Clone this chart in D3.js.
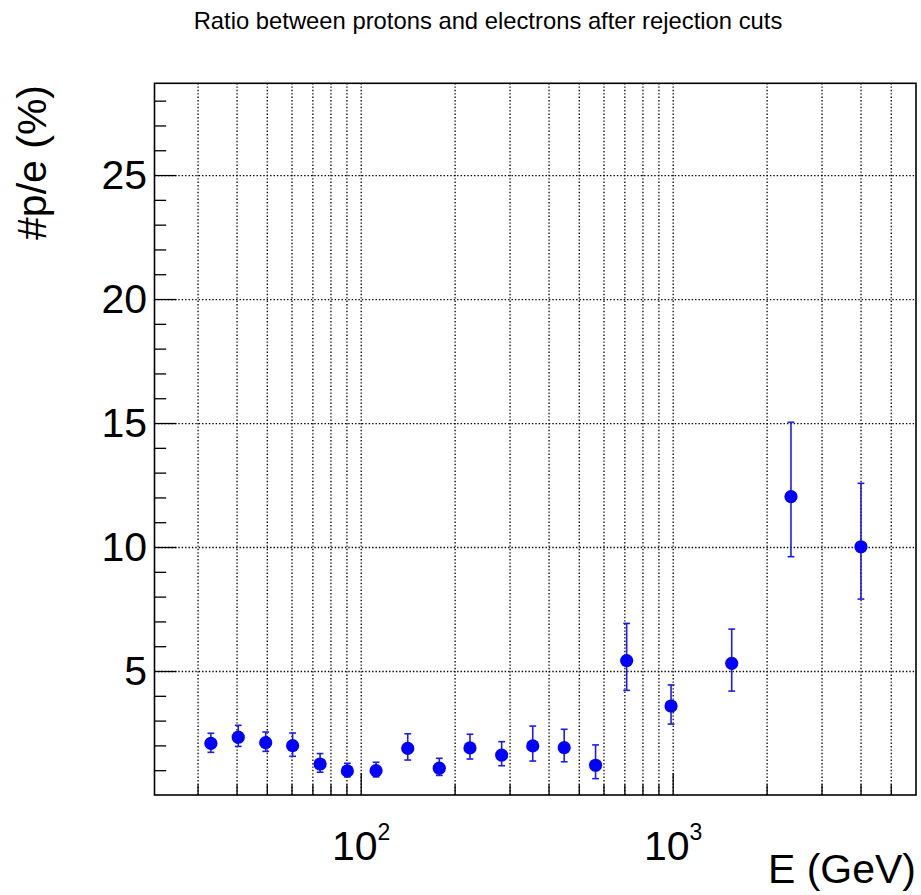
<!DOCTYPE html>
<html>
<head>
<meta charset="utf-8">
<script src="https://cdn.jsdelivr.net/npm/d3@7"></script>
<style>
  html, body { margin: 0; padding: 0; background: #ffffff; }
  svg { display: block; }
  text { font-family: "Liberation Sans", Arial, Helvetica, sans-serif; fill: #000; }
</style>
</head>
<body>
<svg id="chart" width="921" height="895"></svg>
<script>
// ---- data ----
const energy  = [33.1, 40.5, 49.6, 60.5, 74.1, 90.6, 112, 141.5, 178.6, 224, 283, 356, 449, 566, 712, 988, 1546, 2394, 4013];
const ratio   = [2.08, 2.33, 2.11, 1.99, 1.25, 0.97, 0.98, 1.88, 1.08, 1.90, 1.61, 1.98, 1.91, 1.20, 5.42, 3.59, 5.31, 12.03, 10.01];
const errUp   = [0.41, 0.48, 0.43, 0.51, 0.42, 0.31, 0.34, 0.59, 0.40, 0.55, 0.54, 0.80, 0.74, 0.82, 1.50, 0.85, 1.38, 3.00, 2.56];
const errDown = [0.36, 0.37, 0.35, 0.43, 0.33, 0.24, 0.25, 0.47, 0.29, 0.45, 0.43, 0.61, 0.57, 0.54, 1.20, 0.73, 1.12, 2.42, 2.11];

const xMajorTicks = [100, 1000];
const xMajorExp   = ["2", "3"];
const xMinorTicks = [30, 40, 50, 60, 70, 80, 90, 200, 300, 400, 500, 600, 700, 800, 900, 2000, 3000, 4000, 5000];
const yMajorTicks = [5, 10, 15, 20, 25];
const yMinorTicks = [1,2,3,4,6,7,8,9,11,12,13,14,16,17,18,19,21,22,23,24,26,27,28];

const titleText  = "Ratio between protons and electrons after rejection cuts";
const xTitleText = "E (GeV)";
const yTitleText = "#p/e (%)";

// ---- layout ----
const L = 154.5, R = 916, T = 83.3, B = 795;
const svg = d3.select("#chart");

const x = d3.scaleLog().domain([21.83, 6024]).range([L, R]);
const y = d3.scaleLinear().domain([0, 28.7]).range([B, T]);

// grid
const gridX = svg.append("g").attr("transform", `translate(0,${B})`)
  .call(d3.axisBottom(x).tickValues(xMinorTicks.concat(xMajorTicks)).tickSize(-(B - T)).tickFormat(""));
const gridY = svg.append("g").attr("transform", `translate(${L},0)`)
  .call(d3.axisLeft(y).tickValues(yMajorTicks).tickSize(-(R - L)).tickFormat(""));
[gridX, gridY].forEach(g => {
  g.select(".domain").remove();
  g.selectAll("line").attr("stroke", "#000").attr("stroke-width", 1.3).attr("stroke-dasharray", "1.4,2");
});

// x axis ticks
const xMinorAx = svg.append("g").attr("transform", `translate(0,${B})`)
  .call(d3.axisBottom(x).tickValues(xMinorTicks).tickSize(-10.7).tickFormat(""));
const xMajorAx = svg.append("g").attr("transform", `translate(0,${B})`)
  .call(d3.axisBottom(x).tickValues(xMajorTicks).tickSize(-22).tickPadding(0).tickFormat(""));
[xMinorAx, xMajorAx].forEach(g => {
  g.select(".domain").remove();
  g.selectAll("line").attr("stroke", "#000").attr("stroke-width", 1.3);
});
xMajorAx.selectAll(".tick text").each(function(d, i) {
  const t = d3.select(this);
  t.attr("y", 65).attr("dy", null).attr("font-size", 41).attr("text-anchor", "middle");
  t.append("tspan").text("10");
  t.append("tspan").attr("dy", -20).attr("font-size", 23).text(xMajorExp[i]);
});

// y axis ticks
const yMinorAx = svg.append("g").attr("transform", `translate(${L},0)`)
  .call(d3.axisLeft(y).tickValues(yMinorTicks).tickSize(-11.7).tickFormat(""));
const yMajorAx = svg.append("g").attr("transform", `translate(${L},0)`)
  .call(d3.axisLeft(y).tickValues(yMajorTicks).tickSize(-22).tickPadding(7.5));
[yMinorAx, yMajorAx].forEach(g => {
  g.select(".domain").remove();
  g.selectAll("line").attr("stroke", "#000").attr("stroke-width", 1.3);
});
yMajorAx.selectAll("text").attr("font-size", 41).attr("font-family", "Liberation Sans, Arial, sans-serif").attr("fill", "#000");

// frame
svg.append("rect").attr("x", L).attr("y", T).attr("width", R - L).attr("height", B - T)
  .attr("fill", "none").attr("stroke", "#000").attr("stroke-width", 1.6);

// data
const pts = energy.map((e, i) => ({ e, v: ratio[i], up: errUp[i], dn: errDown[i] }));
const gData = svg.append("g");
const ebColor = "#1c1cf0";
gData.selectAll("line.eb").data(pts).enter().append("line").attr("class", "eb")
  .attr("x1", d => x(d.e)).attr("x2", d => x(d.e))
  .attr("y1", d => y(d.v + d.up)).attr("y2", d => y(d.v - d.dn))
  .attr("stroke", ebColor).attr("stroke-width", 1.6);
gData.selectAll("line.capu").data(pts).enter().append("line").attr("class", "capu")
  .attr("x1", d => x(d.e) - 3.4).attr("x2", d => x(d.e) + 3.4)
  .attr("y1", d => y(d.v + d.up)).attr("y2", d => y(d.v + d.up))
  .attr("stroke", ebColor).attr("stroke-width", 1.6);
gData.selectAll("line.capd").data(pts).enter().append("line").attr("class", "capd")
  .attr("x1", d => x(d.e) - 3.4).attr("x2", d => x(d.e) + 3.4)
  .attr("y1", d => y(d.v - d.dn)).attr("y2", d => y(d.v - d.dn))
  .attr("stroke", ebColor).attr("stroke-width", 1.6);
gData.selectAll("circle").data(pts).enter().append("circle")
  .attr("cx", d => x(d.e)).attr("cy", d => y(d.v)).attr("r", 6.6)
  .attr("fill", "#0000ff");

// titles
svg.append("text").attr("x", 488).attr("y", 29).attr("text-anchor", "middle")
  .attr("font-size", 23.8).text(titleText);
svg.append("text").attr("x", R).attr("y", 883).attr("text-anchor", "end")
  .attr("font-size", 41).text(xTitleText);
svg.append("text").attr("transform", `translate(46,85) rotate(-90)`).attr("text-anchor", "end")
  .attr("font-size", 41).text(yTitleText);
</script>
</body>
</html>
